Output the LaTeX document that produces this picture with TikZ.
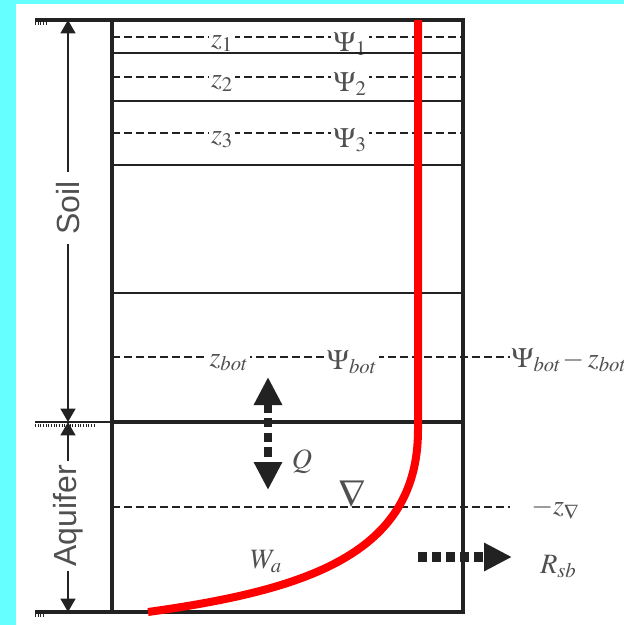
\documentclass[tikz,border=0pt]{standalone}
\usepackage{mathptmx}
\usepackage[no-math]{fontspec}
\setsansfont{Liberation Sans}
\usepackage{tikz}
\usetikzlibrary{arrows.meta,positioning}
\definecolor{SoilCyan}{HTML}{66FFFF}
\definecolor{SoilInk}{HTML}{222222}
\definecolor{SoilText}{HTML}{505050}
\definecolor{SoilRed}{HTML}{FF0000}
\tikzset{
  layer/.style={draw=SoilInk,line width=2.3pt},
  thinlayer/.style={draw=SoilInk,line width=1.2pt},
  level/.style={draw=SoilInk,line width=2pt,dash pattern=on 6pt off 3pt},
  hatch/.style={draw=SoilInk,line width=2pt,dash pattern=on 0.8pt off 1.2pt},
  lbl/.style={font=\fontsize{21}{24}\selectfont,text=SoilText,fill=white,
    inner sep=1.5pt,anchor=base},
  zone/.style={font=\sffamily\fontsize{24}{26}\selectfont,text=SoilText,
    fill=white,rotate=90,inner ysep=2pt},
  dim/.style={draw=SoilInk,line width=1.8pt,-{Triangle[length=10pt,width=11pt]}},
  flux/.style={draw=SoilInk,line width=6pt,dash pattern=on 7pt off 4pt},
  fluxtip/.tip={Triangle[length=21pt,width=20pt]},
  profile/.style={draw=SoilRed,line width=6pt}
}

\begin{document}
\begin{tikzpicture}[x=0.75pt,y=-0.75pt]
  \useasboundingbox (0,0) rectangle (624,625);
  \fill[SoilCyan] (0,0) rectangle (624,625);
  \fill[white] (16,4) rectangle (624,625);
  % column corners
  \coordinate (tl) at (112,20);
  \coordinate (tr) at (463,20);
  \coordinate (bl) at (112,612);
  \coordinate (br) at (463,612);
  \coordinate (ml) at (112,422);
  \coordinate (mr) at (463,422);
  % nodes of the soil layers
  \foreach \y/\i in {37/1,77/2,133/3} {
    \draw[level] (112,\y) -- (463,\y);
    \node[lbl] (z\i) at (222,\y+10) {$z_{\i}$};
    \node[lbl] (psi\i) at (350,\y+14) {$\Psi_{\i}$};
  }
  % layers
  \foreach \y in {53,101,165,293}
    \draw[thinlayer] (112,\y) -- (463,\y);
  \draw[layer] (35,20) -- (tr) -- (br) -- (35,612);
  \draw[layer] (tl) -- (bl);
  \draw[layer] (ml) -- (mr);
  \draw[thinlayer] (35,422) -- (ml);
  \draw[hatch] (35,23.5) -- (47,23.5);
  \draw[hatch] (35,425.5) -- (96,425.5);
  \draw[hatch] (35,615.5) -- (45,615.5);
  % bottom node and water table
  \draw[level] (112,357) -- (510,357);
  \node[lbl] (zbot) at (229,366) {$z_{bot}$};
  \node[lbl] (psibot) at (352,369) {$\Psi_{bot}$};
  \node[lbl,anchor=base west,inner sep=0pt] (head) at (511,367) {$\Psi_{bot}\!-z_{bot}$};
  \draw[level] (112,507) -- (510,507);
  \node[lbl,anchor=base west,inner sep=0pt] (zwt) at (531,514) {$-z_{\nabla}$};
  \node[anchor=south,inner sep=0pt,text=SoilText,
    font=\fontsize{29}{30}\selectfont] (wt) at (352,508) {$\nabla$};
  % zone dimensions
  \node[zone,inner xsep=7pt] (soil) at (68,208) {Soil};
  \node[zone,inner xsep=3pt] (aquifer) at (68,516) {Aquifer};
  \coordinate (soiltop) at (68,20);
  \coordinate (soilbot) at (68,422);
  \coordinate (aqbot) at (68,612);
  \draw[dim] (soil) -- (soiltop);
  \draw[dim] (soil) -- (soilbot);
  \draw[dim] (aquifer) -- (soilbot);
  \draw[dim] (aquifer) -- (aqbot);
  % fluxes
  \coordinate (qtop) at (268,377);
  \coordinate (qbot) at (268,490);
  \draw[flux,fluxtip-fluxtip] (qtop) -- (qbot);
  \node[lbl,fill=none] (q) at (302,468) {$Q$};
  \coordinate (rsbstart) at (418,557);
  \coordinate (rsbend) at (512,557);
  \draw[flux,line width=7pt,dash pattern=on 7pt off 3.5pt,-fluxtip] (rsbstart) -- (rsbend);
  \node[lbl,anchor=base west,fill=none] (rsb) at (538,573) {$R_{sb}$};
  \node[lbl,fill=none] (wa) at (266,568) {$W_a$};
  % moisture profile
  \draw[profile] (418,20) -- (418,430) .. controls (418,555) and (305,590) .. (148,612);
\end{tikzpicture}
\end{document}
